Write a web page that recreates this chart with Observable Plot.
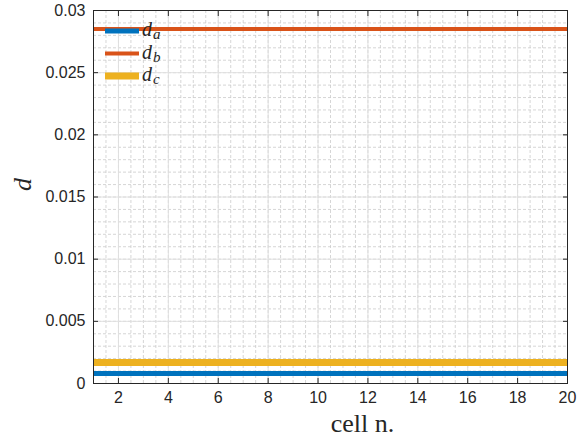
<!DOCTYPE html>
<html>
<head>
<meta charset="utf-8">
<script src="https://cdn.jsdelivr.net/npm/d3@7"></script>
<script src="https://cdn.jsdelivr.net/npm/@observablehq/plot@0.6"></script>
<style>
  html, body { margin: 0; padding: 0; background: #fff; }
  #wrap { position: relative; width: 586px; height: 439px; }
  #legend { position: absolute; left: 0; top: 0; pointer-events: none; }
</style>
</head>
<body>
<div id="wrap"></div>
<script>
// ---- data ----
const cells = [1, 2, 3, 4, 5, 6, 7, 8, 9, 10, 11, 12, 13, 14, 15, 16, 17, 18, 19, 20];
const da = [0.0008, 0.0008, 0.0008, 0.0008, 0.0008, 0.0008, 0.0008, 0.0008, 0.0008, 0.0008,
            0.0008, 0.0008, 0.0008, 0.0008, 0.0008, 0.0008, 0.0008, 0.0008, 0.0008, 0.0008];
const db = [0.02852, 0.02852, 0.02852, 0.02852, 0.02852, 0.02852, 0.02852, 0.02852, 0.02852, 0.02852,
            0.02852, 0.02852, 0.02852, 0.02852, 0.02852, 0.02852, 0.02852, 0.02852, 0.02852, 0.02852];
const dc = [0.00168, 0.00168, 0.00168, 0.00168, 0.00168, 0.00168, 0.00168, 0.00168, 0.00168, 0.00168,
            0.00168, 0.00168, 0.00168, 0.00168, 0.00168, 0.00168, 0.00168, 0.00168, 0.00168, 0.00168];
const seriesNames = ["a", "b", "c"];
const seriesColors = ["#0072BD", "#D95319", "#EDB120"];
const seriesWidths = [5, 4, 7];
const xTicks = [2, 4, 6, 8, 10, 12, 14, 16, 18, 20];
const yTicks = [0, 0.005, 0.01, 0.015, 0.02, 0.025, 0.03];
const yTickLabels = ["0", "0.005", "0.01", "0.015", "0.02", "0.025", "0.03"];
const xLabel = "cell n.";
const yLabel = "d";

// grid positions (minor grid)
const xMinor = d3.range(1, 20.001, 0.5);
const yMinor = d3.range(0, 0.03001, 0.001);

const rows = [];
const seriesValues = [da, db, dc];
seriesNames.forEach((s, i) => cells.forEach((c, j) => rows.push({cell: c, d: seriesValues[i][j], s})));

const axisColor = "#262626";
const tickFont = "Liberation Sans, Arial, Helvetica, sans-serif";

const chart = Plot.plot({
  width: 586,
  height: 439,
  marginLeft: 93,
  marginRight: 19,
  marginTop: 10,
  marginBottom: 56,
  style: {fontFamily: tickFont, fontSize: "16px", color: axisColor, background: "#fff"},
  x: {domain: [1, 20]},
  y: {domain: [0, 0.03]},
  color: {domain: seriesNames, range: seriesColors},
  marks: [
    Plot.ruleX(xMinor, {stroke: "#cccccc", strokeDasharray: "3,2", strokeWidth: 0.8}),
    Plot.ruleY(yMinor, {stroke: "#cccccc", strokeDasharray: "3,2", strokeWidth: 0.8}),
    Plot.ruleX(xTicks, {stroke: "#e0e0e0", strokeWidth: 1}),
    Plot.ruleY(yTicks, {stroke: "#e0e0e0", strokeWidth: 1}),
    ...seriesNames.map((s, i) =>
      Plot.line(rows.filter(r => r.s === s), {x: "cell", y: "d", stroke: seriesColors[i], strokeWidth: seriesWidths[i], strokeLinecap: "butt"})
    ),
    Plot.frame({stroke: axisColor, strokeWidth: 1}),
    Plot.axisX({anchor: "bottom", ticks: xTicks, tickSize: -5, tickPadding: 13, label: null, stroke: axisColor, fill: axisColor, fontSize: 16}),
    Plot.axisX({anchor: "top", ticks: xTicks, tickSize: -5, tickFormat: () => "", label: null, stroke: axisColor}),
    Plot.axisY({anchor: "left", ticks: yTicks, tickSize: -5, tickPadding: 13, tickFormat: (d) => yTickLabels[yTicks.indexOf(d)], label: null, stroke: axisColor, fill: axisColor, fontSize: 16}),
    Plot.axisY({anchor: "right", ticks: yTicks, tickSize: -5, tickFormat: () => "", label: null, stroke: axisColor}),
    Plot.text([xLabel], {frameAnchor: "bottom", dx: 32, dy: 48, fontFamily: "Liberation Serif, Times New Roman, serif", fontSize: 26, fill: axisColor, lineAnchor: "bottom", letterSpacing: 1}),
    Plot.text([yLabel], {frameAnchor: "left", dx: -71, dy: -6, rotate: -90, fontFamily: "Liberation Serif, Times New Roman, serif", fontStyle: "italic", fontSize: 26, fill: axisColor})
  ]
});

const wrap = document.getElementById("wrap");
wrap.appendChild(chart);

// legend overlay
const ns = "http://www.w3.org/2000/svg";
const leg = document.createElementNS(ns, "svg");
leg.setAttribute("id", "legend");
leg.setAttribute("width", 586);
leg.setAttribute("height", 439);
const lineYs = [31, 53.5, 76];
seriesNames.forEach((s, i) => {
  const ln = document.createElementNS(ns, "line");
  ln.setAttribute("x1", 105); ln.setAttribute("x2", 139);
  ln.setAttribute("y1", lineYs[i]); ln.setAttribute("y2", lineYs[i]);
  ln.setAttribute("stroke", seriesColors[i]);
  ln.setAttribute("stroke-width", seriesWidths[i]);
  leg.appendChild(ln);
  const t = document.createElementNS(ns, "text");
  t.setAttribute("x", 142);
  t.setAttribute("y", lineYs[i] + 5);
  t.setAttribute("font-family", "Liberation Serif, Times New Roman, serif");
  t.setAttribute("font-style", "italic");
  t.setAttribute("font-size", 20);
  t.setAttribute("fill", axisColor);
  const m = document.createElementNS(ns, "tspan");
  m.textContent = "d";
  const sub = document.createElementNS(ns, "tspan");
  sub.setAttribute("dy", 3);
  sub.setAttribute("font-size", 15);
  sub.setAttribute("dx", 1);
  sub.textContent = s;
  t.appendChild(m); t.appendChild(sub);
  leg.appendChild(t);
});
wrap.appendChild(leg);
</script>
</body>
</html>
